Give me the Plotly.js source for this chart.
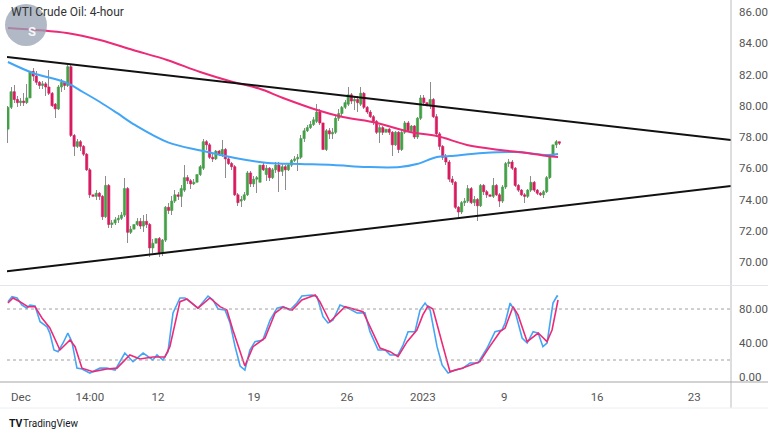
<!DOCTYPE html>
<html><head><meta charset="utf-8">
<script src="https://cdn.plot.ly/plotly-3.0.1.min.js"></script>
<style>html,body{margin:0;padding:0;background:#fff;}#chart{width:768px;height:432px;}</style>
</head><body><div id="chart"></div>
<script>
// ---- 4-hour candles (bar index 0..175) ----
const openP  = [78.5,79.9,80.9,80.4,80.2,80.3,80.2,80.5,82.2,81.9,81.5,81.3,81.4,81.2,80.8,80.1,79.8,81.2,81.5,81.3,
82.5,78.1,77.4,77.7,77.4,76.9,75.9,74.3,74.2,74.4,74.2,72.9,74.9,72.4,72.5,72.7,72.8,73.0,74.7,71.9,
72.1,72.4,72.6,72.3,72.6,72.4,70.9,71.2,71.5,70.6,71.4,73.5,73.3,73.9,74.3,74.2,74.6,75.4,75.2,75.0,
75.1,75.6,76.0,77.7,77.5,76.7,76.6,77.1,76.9,77.2,76.6,76.3,76.1,74.3,73.9,74.0,74.3,75.7,75.0,75.3,
75.1,76.2,75.6,76.0,75.4,75.9,76.2,75.8,76.1,75.9,76.2,76.5,76.6,76.7,77.9,78.4,78.6,78.8,79.0,79.6,
78.9,77.2,78.4,78.2,78.3,79.2,79.5,79.9,80.1,80.7,80.3,80.4,80.1,80.8,79.9,79.6,79.3,79.0,78.3,78.6,
78.3,78.5,78.3,77.5,78.3,77.2,78.3,78.9,78.4,78.7,78.0,79.2,80.5,80.2,80.0,80.4,79.3,78.2,77.4,76.7,
76.4,75.3,75.1,73.5,73.2,73.8,73.9,74.7,73.8,74.0,73.6,74.9,74.5,74.3,74.2,74.9,74.3,73.9,74.8,76.3,
76.4,76.0,74.9,74.6,74.3,74.2,74.6,75.1,74.6,74.4,74.3,74.5,75.4,76.8,77.5,77.7];
const highP  = [80.0,81.2,81.3,80.6,80.5,80.8,81.4,83.2,82.4,82.2,81.6,81.6,81.5,82.3,80.9,80.2,81.3,81.7,81.6,82.6,
82.7,78.2,77.9,77.8,77.5,77.0,76.0,74.5,74.6,74.5,74.3,75.5,75.0,72.7,72.9,73.0,73.2,75.4,74.8,72.3,
72.6,72.8,72.8,73.0,73.1,72.5,71.5,72.1,71.6,71.5,73.6,73.8,74.2,74.6,74.5,74.9,76.2,75.6,75.3,75.3,
75.8,76.2,77.9,77.8,77.6,76.9,77.2,77.2,77.8,77.3,76.7,76.4,76.2,74.4,74.2,74.5,75.8,75.8,75.5,75.5,
76.9,76.4,76.2,76.1,76.0,76.4,76.4,76.3,76.2,76.3,76.6,76.8,76.9,78.1,78.6,78.8,79.0,79.3,80.1,79.8,
79.0,78.5,78.6,78.6,79.4,79.8,80.0,80.4,81.2,80.8,80.6,80.6,81.2,80.9,80.0,79.7,79.4,79.1,78.8,78.7,
78.7,78.6,78.4,78.4,78.4,78.4,79.0,79.0,78.8,78.8,79.3,80.7,80.7,80.4,81.5,80.5,79.5,78.3,77.5,76.9,
76.5,75.5,75.2,73.6,73.9,74.1,74.9,74.8,74.2,74.1,75.0,75.0,74.6,74.4,75.4,75.0,74.4,74.9,76.4,76.6,
76.5,76.1,75.0,74.7,74.4,74.7,75.5,75.2,74.7,74.5,74.6,75.5,76.9,77.8,77.8,77.7];
const lowP   = [77.6,79.8,80.2,79.9,80.0,80.0,80.1,80.4,81.6,81.3,81.1,81.1,80.6,80.7,79.9,79.2,79.7,80.9,81.0,81.2,
78.0,76.8,77.3,77.1,76.8,75.8,74.1,73.9,74.0,74.0,72.7,72.8,72.2,72.2,72.4,72.5,72.7,72.9,71.2,71.8,
72.0,72.3,72.1,71.9,72.2,70.3,70.6,71.0,70.3,70.4,71.3,73.1,73.0,73.8,74.0,73.5,74.5,75.0,74.7,74.9,
75.0,75.5,75.9,77.2,76.6,76.4,76.5,76.8,76.7,75.4,76.2,75.9,74.2,73.6,73.5,73.9,74.2,74.8,74.8,74.4,
75.0,75.8,75.2,75.2,75.3,75.7,74.5,75.5,74.6,75.8,76.1,76.4,75.8,76.6,77.7,78.3,78.5,78.7,78.9,78.8,
77.1,77.1,77.9,77.9,78.2,79.0,79.3,79.8,80.0,80.1,79.7,79.6,80.0,79.8,79.5,79.2,78.8,78.2,77.6,78.1,
78.2,78.1,76.8,77.4,77.0,77.1,78.2,78.3,78.3,77.9,77.9,79.1,80.0,79.5,79.8,79.2,78.0,77.2,76.5,76.2,
75.1,74.9,73.4,72.9,73.1,73.6,73.8,73.7,73.6,72.6,73.5,74.3,74.1,73.9,74.1,74.2,73.5,73.8,74.7,76.1,
75.9,74.8,74.5,74.2,73.8,74.1,74.5,74.5,74.3,74.2,74.1,74.4,75.3,75.8,77.3,77.5];
const closeP = [79.9,80.9,80.4,80.2,80.3,80.2,80.5,82.2,81.9,81.5,81.3,81.4,81.2,80.8,80.0,79.8,81.2,81.5,81.3,82.5,
78.1,77.4,77.7,77.4,76.9,75.9,74.3,74.2,74.4,74.2,72.9,74.9,72.4,72.5,72.7,72.8,73.0,74.7,71.9,72.1,
72.4,72.6,72.3,72.6,72.4,70.9,71.2,71.5,70.6,71.4,73.5,73.3,73.9,74.3,74.2,74.7,75.4,75.2,75.0,75.1,
75.6,76.1,77.7,77.5,76.7,76.6,77.1,76.9,77.2,76.6,76.3,76.1,74.3,73.8,74.0,74.3,75.7,75.0,75.3,75.4,
76.2,75.9,76.0,75.4,75.9,76.2,75.8,76.1,75.9,76.2,76.5,76.6,76.7,77.9,78.4,78.6,78.8,79.1,79.6,78.9,
77.2,78.4,78.2,78.3,79.2,79.5,79.9,80.2,80.7,80.3,80.4,80.2,80.8,79.9,79.6,79.3,79.0,78.3,78.6,78.3,
78.5,78.3,77.5,78.3,77.2,78.3,78.9,78.4,78.7,78.0,79.2,80.5,80.2,80.0,80.4,79.3,78.2,77.4,76.7,76.4,
75.3,75.1,73.5,73.2,73.8,73.9,74.7,73.8,74.0,73.6,74.9,74.5,74.3,74.2,74.9,74.3,73.9,74.8,76.3,76.4,
76.0,74.9,74.6,74.3,74.2,74.6,75.1,74.6,74.4,74.3,74.5,75.4,76.8,77.5,77.7,77.6];

// ---- moving averages (bar index, price) ----
const maSlowIdx = [0,18.7,29.2,39.7,50.5,61,71.4,79.7,87.3,98.1,106.3,117.1,127.6,136.2,145.7,156.2,164.8,171.1,174.6];
const maSlow    = [84.98,84.66,84.21,83.57,82.93,82.16,81.52,81.1,80.5,79.73,79.28,78.9,78.32,78.06,77.49,77.17,76.98,76.78,76.72];
const maFastIdx = [0,7.9,18.7,23.8,29.2,34.6,40.3,50.8,61.6,72.1,82.5,92.7,103.2,114,124.4,129.8,136.2,140.3,150.8,161.6,171.1,174.6];
const maFast    = [82.8,82.1,81.46,80.88,80.24,79.54,78.77,77.66,77.12,76.66,76.34,76.27,76.21,76.08,76.08,76.27,76.72,76.78,76.98,77.04,76.85,76.91];

// ---- trend lines ----
const trendIdx   = [-0.3, 229.5];
const trendUpper = [83.12, 77.8];
const trendLower = [69.4, 74.86];

// ---- stochastic ----
const stochKIdx = [0,1.3,2.9,4.4,6.0,7.0,8.6,10.2,12.4,13.3,14.6,15.9,17.5,19.0,20.3,21.9,23.5,26.0,29.2,31.4,34.0,37.1,39.7,42.9,46.0,47.3,49.2,50.8,52.4,54.6,56.2,58.4,60.3,63.5,65.1,66.7,68.9,70.5,72.1,73.7,75.2,76.8,78.4,80.9,83.2,85.4,87.3,89.5,91.7,93.3,96.5,98.1,100,101.6,103.2,105.4,107.9,110.8,113.3,114.9,117.5,119.7,121.3,123.8,125.4,127.0,129.2,130.8,132.4,134.0,136.2,137.8,139.7,141.9,144.4,146.7,149.2,152.1,154.6,156.8,157.8,159.4,161.0,163.2,164.8,166.7,168.3,169.8,171.1,173.0,174.3,174.6];
const stochK    = [88.6,94.5,93,84.7,81,84.7,83.5,65,59,51.7,31.8,29.8,40,51.7,41.6,10.4,9.4,4.7,10.4,10.4,8.2,28.2,18,28.2,20,25.9,20,29.8,75.3,93,93,87,81,95.3,90.6,80,78.8,63.5,35.7,12.9,8.2,31.8,41.6,43.5,67,81,82.7,78.8,87,95.3,96.5,94.5,71,63.5,67,84.7,81,75.3,75.6,53.3,31.8,31.8,25.9,25.9,37.6,53.3,53.3,78.8,87,78.8,35.7,14.1,4.7,8.2,10.4,16.5,16.5,34.1,53.3,55.3,63.5,87,76.8,45.9,40,53.3,51.7,35.7,40,87,95.3,94.5];
const stochDIdx = [0,1.6,3.8,6.3,8.6,10.8,13.3,16.5,19.7,21.3,23.5,27.0,31.4,34.6,38.7,41.9,46.0,49.8,51.4,54.6,56.8,60.3,64.1,67.3,69.5,71.4,75.2,77.8,81.6,84.8,87.3,90.2,93.3,97.5,99.0,102.2,107.0,112.7,118.1,121.3,123.8,126.7,129.8,131.7,133.3,134.9,137.8,140.3,144.1,148.3,149.8,152.9,156.2,157.8,160.3,161.9,164.8,168.3,171.1,172.7,174.6];
const stochD    = [87,93,88.6,82.7,82.7,69.4,57.6,31.8,43.5,35.7,10.4,6.3,9.4,10.4,25.9,21.2,23.5,23.5,35.7,88.6,91.8,81,93,82.7,78.8,55.3,12.9,35.7,45.9,75.3,82.3,78.8,90.6,96.5,88.6,65,82.7,76.8,34.1,29.8,23.9,41.6,55.3,73,83.5,80,40,6.3,10.4,16.5,18,35.7,53.3,57.6,82.7,73,41.6,51.7,41.6,55.3,90.6];

// ---- axis ticks ----
const timeTickIdx   = [4.1, 26, 47.6, 78.1, 107.6, 131.7, 157.5, 187, 217.8];
const timeTickText  = ['Dec','14:00','12','19','26','2023','9','16','23'];
const priceTicks    = [70,72,74,76,78,80,82,84,86];
const priceTickText = ['70.00','72.00','74.00','76.00','78.00','80.00','82.00','84.00','86.00'];
const stochTicks    = [0,40,80];
const stochTickText = ['0.00','40.00','80.00'];
const stochBands    = [80,20];

const GREEN = '#43a047', PINK = '#d81b60', WICK = '#8c8c8c';
const FONT = "'Liberation Sans Narrow','Roboto','Liberation Sans',sans-serif";

const idx = openP.map((_, i) => i);
const bodyBase = openP.map((o, i) => Math.min(o, closeP[i]));
const bodyLen  = openP.map((o, i) => Math.abs(closeP[i] - o));
const bodyCol  = openP.map((o, i) => closeP[i] >= o ? GREEN : PINK);

const traces = [
  {type:'bar', x:idx, base:lowP, y:highP.map((h,i)=>h-lowP[i]), width:0.3,
   marker:{color:WICK, line:{width:0}}, yaxis:'y', hoverinfo:'skip'},
  {type:'bar', x:idx, base:bodyBase, y:bodyLen, width:0.72,
   marker:{color:bodyCol, line:{color:bodyCol, width:0.6}}, yaxis:'y', hoverinfo:'skip'},
  {type:'scatter', mode:'lines', x:maFastIdx, y:maFast, line:{color:'#42a5f5', width:2, shape:'spline', smoothing:1}, yaxis:'y', hoverinfo:'skip'},
  {type:'scatter', mode:'lines', x:maSlowIdx, y:maSlow, line:{color:'#ec2a78', width:2, shape:'spline', smoothing:1}, yaxis:'y', hoverinfo:'skip'},
  {type:'scatter', mode:'lines', x:trendIdx, y:trendUpper, line:{color:'#111', width:2}, yaxis:'y', hoverinfo:'skip'},
  {type:'scatter', mode:'lines', x:trendIdx, y:trendLower, line:{color:'#111', width:2}, yaxis:'y', hoverinfo:'skip'},
  {type:'scatter', mode:'lines', x:stochKIdx, y:stochK, line:{color:'#42a5f5', width:1.6}, yaxis:'y2', hoverinfo:'skip'},
  {type:'scatter', mode:'lines', x:stochDIdx, y:stochD, line:{color:'#ec2a78', width:1.6}, yaxis:'y2', hoverinfo:'skip'}
];

// pixel helpers for decorations (plot area: x 7..731, y 0..382)
const PX = p => (p - 7) / 724;
const PY = p => (382 - p) / 382;

const shapes = [
  {type:'line', xref:'paper', yref:'paper', x0:1, x1:1, y0:PY(408), y1:1, line:{color:'#b8bcc4', width:1}},
  {type:'line', xref:'paper', yref:'paper', x0:PX(0), x1:PX(768), y0:PY(285.5), y1:PY(285.5), line:{color:'#e3e5ea', width:1}},
  {type:'line', xref:'paper', yref:'paper', x0:PX(0), x1:PX(768), y0:0, y1:0, line:{color:'#a6a6a6', width:1}},
  {type:'line', xref:'paper', yref:'paper', x0:PX(0), x1:PX(768), y0:PY(408), y1:PY(408), line:{color:'#eceef2', width:1}},
  {type:'circle', xref:'paper', yref:'paper', x0:PX(5), x1:PX(47), y0:PY(46), y1:PY(4), fillcolor:'rgba(150,162,178,0.75)', line:{width:0}, layer:'above'}
].concat(stochBands.map(v => ({type:'line', xref:'paper', yref:'y2', x0:0, x1:1, y0:v, y1:v, line:{color:'#a0a0a0', width:1, dash:'dot'}})));

const annotations = [
  {xref:'paper', yref:'paper', x:PX(26), y:PY(22), text:'<b>S</b>', showarrow:false, font:{family:FONT, size:13, color:'rgba(255,255,255,0.9)'}},
  {xref:'paper', yref:'paper', x:PX(9), y:PY(12), xanchor:'left', yanchor:'middle', text:'WTI Crude Oil: 4-hour', showarrow:false, font:{family:FONT, size:12, color:'#333'}},
  {xref:'paper', yref:'paper', x:PX(7), y:PY(423), xanchor:'left', yanchor:'middle', text:'<b>TV</b>', showarrow:false, font:{family:FONT, size:10.5, color:'#131722'}},
  {xref:'paper', yref:'paper', x:PX(21), y:PY(423), xanchor:'left', yanchor:'middle', text:'TradingView', showarrow:false, font:{family:FONT, size:10, color:'#131722'}}
];

const axFont = {family:FONT, size:11.5, color:'#555'};
const layout = {
  width:768, height:432,
  margin:{l:7, r:37, t:0, b:50, pad:0},
  paper_bgcolor:'#fff', plot_bgcolor:'#fff',
  showlegend:false, barmode:'overlay', bargap:0, hovermode:false,
  xaxis:{range:[-0.3,229.5], anchor:'y2', tickmode:'array', tickvals:timeTickIdx, ticktext:timeTickText,
         showgrid:false, zeroline:false, showline:false, ticks:'', tickfont:axFont, ticklabelstandoff:6, fixedrange:true},
  yaxis:{domain:[PY(285),1], range:[86-(285-12)/15.625, 86+12/15.625], side:'right', tickmode:'array',
         tickvals:priceTicks, ticktext:priceTickText, showgrid:false, zeroline:false, showline:false, ticks:'',
         tickfont:axFont, ticklabelstandoff:7, fixedrange:true},
  yaxis2:{domain:[0,PY(287)], range:[(377-382)/0.85, (377-287)/0.85], side:'right', tickmode:'array',
         tickvals:stochTicks, ticktext:stochTickText, showgrid:false, zeroline:false, showline:false, ticks:'',
         tickfont:axFont, ticklabelstandoff:7, fixedrange:true},
  shapes:shapes, annotations:annotations
};

Plotly.newPlot('chart', traces, layout, {staticPlot:true, displayModeBar:false});
</script></body></html>
